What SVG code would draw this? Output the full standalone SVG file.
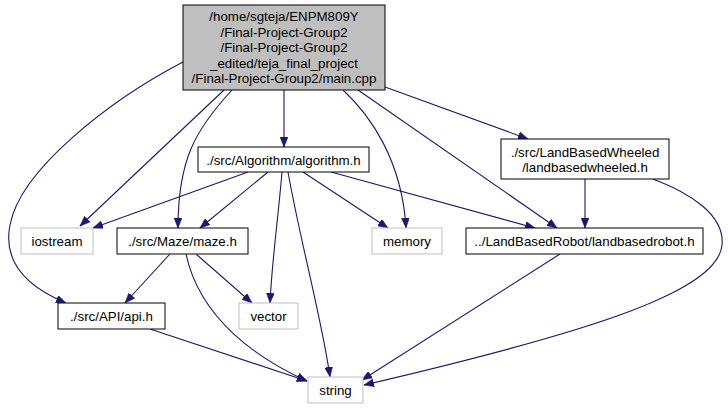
<svg xmlns="http://www.w3.org/2000/svg" width="728" height="409" viewBox="0 0 728 409">
<style>
.n rect{fill:#fff;stroke:#000;stroke-width:1}
.n.g rect{stroke:#bfbfbf}
.n.m rect{fill:#bfbfbf}
text{font-family:"Liberation Sans",Arial,Helvetica,sans-serif;font-size:13.3px;fill:#000;text-anchor:middle}
.e path{fill:none;stroke:#191970;stroke-width:1.1;marker-end:url(#a)}
</style>
<defs>
<marker id="a" markerUnits="userSpaceOnUse" markerWidth="11" markerHeight="8" refX="10" refY="4" orient="auto">
<path d="M0,0 L10,4 L0,8 z" fill="#191970" stroke="#191970" stroke-width="0.5"/>
</marker>
</defs>
<g id="edges" class="e">
<path d="M183,62 C110,100 20,170 10,225 C2,265 30,288 66,303"/>
<path d="M224,90 L80,226"/>
<path d="M232,90 C195,130 178,160 178,228"/>
<path d="M284,90 L284,147"/>
<path d="M343,90 C370,115 402,160 406,228"/>
<path d="M358,90 L557,228"/>
<path d="M385,87 L528,139"/>
<path d="M248,172 L93,228"/>
<path d="M268,172 L200,228"/>
<path d="M282,172 C278,220 272,260 270,303"/>
<path d="M288,172 C300,240 322,320 330,377"/>
<path d="M303,172 L388,228"/>
<path d="M331,172 L535,228"/>
<path d="M170,254 L125,303"/>
<path d="M196,254 L252,303"/>
<path d="M186,254 C200,320 260,360 307,381"/>
<path d="M150,329 L307,381"/>
<path d="M560,254 L362,380"/>
<path d="M653,179 C690,193 725,215 722,245 C718,290 600,330 364,385"/>
<path d="M585,179 L585,228"/>
</g>
<g id="main" class="n m">
<rect x="183" y="5" width="202" height="85"/>
<text x="284" y="21.2">/home/sgteja/ENPM809Y</text>
<text x="284" y="36.7">/Final-Project-Group2</text>
<text x="284" y="52.2">/Final-Project-Group2</text>
<text x="284" y="67.7">_edited/teja_final_project</text>
<text x="284" y="83.2">/Final-Project-Group2/main.cpp</text>
</g>
<g id="algorithm" class="n">
<rect x="198" y="147" width="171" height="25"/>
<text x="283.5" y="164.5">./src/Algorithm/algorithm.h</text>
</g>
<g id="wheeled" class="n">
<rect x="501" y="139" width="168" height="40"/>
<text x="585" y="156.5">./src/LandBasedWheeled</text>
<text x="585" y="172">/landbasedwheeled.h</text>
</g>
<g id="iostream" class="n g">
<rect x="21" y="228" width="72" height="26"/>
<text x="57" y="246">iostream</text>
</g>
<g id="maze" class="n">
<rect x="117" y="228" width="131" height="26"/>
<text x="182.5" y="246">./src/Maze/maze.h</text>
</g>
<g id="memory" class="n g">
<rect x="372" y="228" width="70" height="26"/>
<text x="407" y="246">memory</text>
</g>
<g id="robot" class="n">
<rect x="466" y="228" width="237" height="26"/>
<text x="584.5" y="246">../LandBasedRobot/landbasedrobot.h</text>
</g>
<g id="api" class="n">
<rect x="58" y="303" width="107" height="26"/>
<text x="111.5" y="321">./src/API/api.h</text>
</g>
<g id="vector" class="n g">
<rect x="239" y="303" width="59" height="26"/>
<text x="268.5" y="321">vector</text>
</g>
<g id="string" class="n g">
<rect x="308" y="377" width="55" height="26"/>
<text x="335.5" y="395">string</text>
</g>
</svg>
